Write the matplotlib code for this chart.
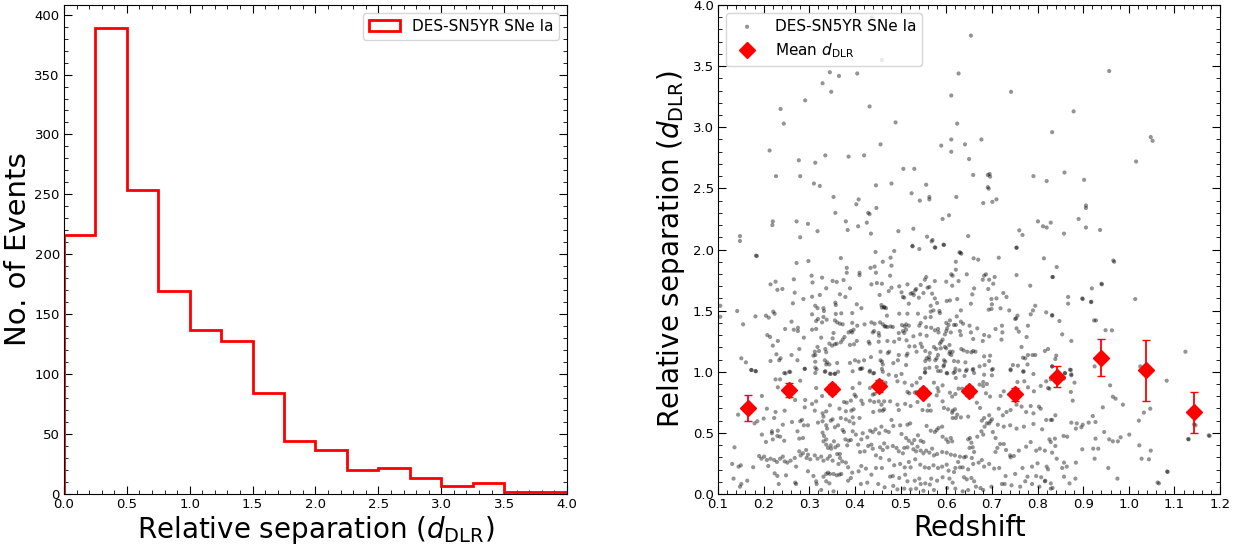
import numpy as np
import matplotlib
matplotlib.use('Agg')
import matplotlib.pyplot as plt
from matplotlib.ticker import MultipleLocator

# histogram of d_DLR (bin width 0.25)
bin_edges = [0.0, 0.25, 0.5, 0.75, 1.0, 1.25, 1.5, 1.75, 2.0, 2.25, 2.5, 2.75, 3.0, 3.25, 3.5, 3.75, 4.0]
bin_counts = [216, 389, 254, 169, 137, 128, 84, 44, 37, 20, 22, 13, 7, 9, 2, 2]

# mean d_DLR per redshift bin
mean_z = [0.165, 0.255, 0.350, 0.452, 0.550, 0.650, 0.750, 0.842, 0.940, 1.038, 1.142]
mean_d = [0.705, 0.850, 0.860, 0.885, 0.830, 0.845, 0.815, 0.960, 1.115, 1.012, 0.668]
mean_err = [0.105, 0.060, 0.040, 0.050, 0.040, 0.040, 0.055, 0.085, 0.150, 0.247, 0.167]

# individual SNe (redshift, d_DLR)
sn_upper = [
    (0.105, 1.54), (0.105, 1.45), (0.148, 2.11), (0.148, 2.07), (0.183, 1.95), (0.213, 2.81), (0.22, 2.23),
    (0.219, 2.20), (0.227, 2.60), (0.237, 3.15), (0.244, 3.03), (0.272, 2.23), (0.277, 2.73), (0.28, 2.60),
    (0.28, 2.10), (0.291, 3.22), (0.297, 2.21), (0.329, 3.36), (0.313, 2.71), (0.318, 2.15), (0.335, 2.77),
    (0.345, 3.45), (0.348, 3.29), (0.353, 2.43), (0.357, 2.30), (0.365, 3.42), (0.386, 2.76), (0.405, 3.44),
    (0.408, 2.41), (0.403, 2.37), (0.42, 2.77), (0.432, 3.17), (0.429, 2.30), (0.435, 2.13), (0.447, 2.34),
    (0.456, 2.86), (0.48, 2.54), (0.489, 3.04), (0.495, 2.15), (0.506, 2.66), (0.524, 2.46), (0.53, 2.66),
    (0.528, 2.17), (0.542, 2.40), (0.556, 2.53), (0.563, 2.43), (0.563, 2.41), (0.589, 2.85), (0.592, 2.25),
    (0.606, 2.28), (0.611, 3.26), (0.611, 2.90), (0.611, 2.80), (0.622, 2.43), (0.624, 3.03), (0.627, 3.44),
    (0.641, 2.86), (0.648, 2.11), (0.65, 2.74), (0.654, 3.75), (0.659, 2.61), (0.677, 2.90), (0.681, 2.38),
    (0.691, 2.61), (0.691, 2.51), (0.701, 2.39), (0.71, 2.41), (0.742, 3.29), (0.791, 2.60), (0.832, 2.96),
    (0.82, 2.56), (0.879, 3.13), (0.902, 2.57), (0.906, 2.34), (0.906, 2.36), (0.89, 2.25), (0.937, 2.16),
    (0.906, 2.18), (0.957, 3.46), (1.016, 2.72), (1.048, 2.92), (1.052, 2.89), (0.82, 2.18), (0.829, 2.22),
    (0.801, 2.23), (0.812, 2.19), (0.858, 2.13), (0.859, 2.63), (0.966, 1.91), (0.272, 3.60), (0.459, 3.55),
    (0.437, 3.90), (0.31, 2.54), (0.323, 2.52), (0.446, 2.525), (0.432, 2.29), (0.38, 2.23), (0.384, 2.16),
    (0.407, 2.19), (0.426, 2.22), (0.526, 2.03), (0.558, 2.105), (0.57, 2.078), (0.568, 2.067), (0.575, 2.018),
    (0.594, 2.04), (0.631, 1.974), (0.76, 2.157), (0.767, 2.119), (0.754, 2.015), (0.695, 2.618), (0.696, 2.596),
    (0.693, 2.498),
]

sn_mid_left = [
    (0.185, 1.947), (0.272, 1.89), (0.298, 1.906), (0.369, 1.93), (0.445, 1.98), (0.461, 1.9), (0.382, 1.85),
    (0.382, 1.81), (0.41, 1.81), (0.41, 1.79), (0.434, 1.85), (0.443, 1.86), (0.446, 1.81), (0.266, 1.756),
    (0.305, 1.786), (0.307, 1.73), (0.328, 1.77), (0.351, 1.743), (0.36, 1.735), (0.375, 1.75), (0.215, 1.715),
    (0.226, 1.737), (0.23, 1.67), (0.241, 1.677), (0.268, 1.647), (0.306, 1.614), (0.323, 1.628), (0.337, 1.683),
    (0.367, 1.634), (0.379, 1.612), (0.389, 1.683), (0.436, 1.715), (0.448, 1.726), (0.459, 1.72), (0.454, 1.628),
    (0.287, 1.595), (0.264, 1.56), (0.313, 1.54), (0.318, 1.52), (0.331, 1.52), (0.332, 1.497), (0.357, 1.565),
    (0.358, 1.546), (0.404, 1.552), (0.414, 1.52), (0.458, 1.546), (0.459, 1.525), (0.464, 1.525), (0.142, 1.497),
    (0.182, 1.453), (0.205, 1.459), (0.211, 1.443), (0.221, 1.492), (0.224, 1.475), (0.155, 1.388), (0.306, 1.47),
    (0.315, 1.415), (0.328, 1.404), (0.319, 1.432), (0.331, 1.448), (0.338, 1.426), (0.358, 1.473), (0.37, 1.478),
    (0.356, 1.42), (0.361, 1.404), (0.367, 1.393), (0.373, 1.388), (0.394, 1.48), (0.394, 1.40), (0.405, 1.377),
    (0.421, 1.388), (0.436, 1.404), (0.443, 1.393), (0.455, 1.404), (0.461, 1.388), (0.465, 1.371), (0.247, 1.35),
    (0.261, 1.41), (0.266, 1.344), (0.275, 1.36), (0.275, 1.333), (0.306, 1.344), (0.315, 1.35), (0.353, 1.317),
    (0.351, 1.273), (0.386, 1.322), (0.391, 1.333), (0.394, 1.322), (0.397, 1.344), (0.439, 1.322), (0.442, 1.333),
    (0.452, 1.317), (0.453, 1.295), (0.208, 1.30), (0.214, 1.285), (0.231, 1.252), (0.288, 1.279), (0.326, 1.279),
    (0.377, 1.284), (0.373, 1.263), (0.398, 1.225), (0.404, 1.252), (0.43, 1.246), (0.432, 1.23), (0.452, 1.246),
    (0.22, 1.214), (0.278, 1.186), (0.344, 1.23), (0.35, 1.214), (0.356, 1.225), (0.36, 1.23), (0.369, 1.241),
    (0.389, 1.22), (0.318, 1.203), (0.312, 1.164), (0.321, 1.17), (0.313, 1.137), (0.309, 1.132), (0.335, 1.186),
    (0.337, 1.16), (0.228, 1.143), (0.237, 1.11), (0.234, 1.094), (0.261, 1.137), (0.215, 1.088), (0.274, 1.094),
    (0.29, 1.023), (0.151, 1.11), (0.161, 1.077), (0.173, 1.014), (0.182, 1.006), (0.313, 1.082), (0.313, 1.034),
    (0.334, 1.094), (0.339, 1.077), (0.337, 1.06), (0.344, 1.06), (0.361, 1.072), (0.389, 1.072), (0.363, 1.0),
    (0.40, 1.094), (0.408, 1.083), (0.42, 1.094), (0.435, 1.12), (0.456, 1.164), (0.456, 1.094), (0.459, 1.083),
    (0.461, 1.06), (0.411, 1.023), (0.416, 1.028), (0.432, 1.0), (0.442, 0.99), (0.245, 0.99), (0.256, 1.0),
    (0.313, 0.99), (0.334, 1.0), (0.345, 0.985), (0.356, 0.985), (0.459, 1.023), (0.461, 1.0),
]

sn_mid_centre = [
    (0.486, 1.988), (0.478, 1.933), (0.48, 1.868), (0.526, 2.026), (0.541, 2.004), (0.576, 2.015), (0.595, 2.037),
    (0.629, 1.977), (0.633, 1.966), (0.621, 1.90), (0.621, 1.835), (0.66, 1.928), (0.67, 1.917), (0.715, 1.933),
    (0.754, 2.015), (0.814, 1.928), (0.477, 1.786), (0.556, 1.775), (0.553, 1.753), (0.611, 1.797), (0.614, 1.786),
    (0.645, 1.797), (0.683, 1.786), (0.687, 1.797), (0.694, 1.753), (0.706, 1.775), (0.68, 1.753), (0.754, 1.791),
    (0.833, 1.775), (0.60, 1.737), (0.627, 1.742), (0.575, 1.742), (0.544, 1.71), (0.559, 1.688), (0.563, 1.693),
    (0.497, 1.699), (0.515, 1.715), (0.48, 1.688), (0.474, 1.66), (0.613, 1.704), (0.661, 1.682), (0.692, 1.677),
    (0.703, 1.72), (0.784, 1.704), (0.502, 1.65), (0.505, 1.612), (0.508, 1.606), (0.522, 1.639), (0.526, 1.644),
    (0.532, 1.666), (0.534, 1.677), (0.529, 1.628), (0.54, 1.606), (0.55, 1.644), (0.569, 1.639), (0.575, 1.60),
    (0.58, 1.563), (0.657, 1.633), (0.699, 1.595), (0.71, 1.60), (0.725, 1.644), (0.732, 1.612), (0.601, 1.579),
    (0.608, 1.584), (0.624, 1.595), (0.654, 1.557), (0.518, 1.557), (0.70, 1.552), (0.699, 1.514), (0.719, 1.519),
    (0.738, 1.502), (0.693, 1.508), (0.795, 1.54), (0.79, 1.502), (0.785, 1.47), (0.819, 1.486), (0.832, 1.459),
    (0.464, 1.53), (0.468, 1.52), (0.47, 1.459), (0.566, 1.54), (0.566, 1.492), (0.572, 1.502), (0.585, 1.497),
    (0.586, 1.48), (0.632, 1.502), (0.623, 1.453), (0.497, 1.475), (0.515, 1.475), (0.538, 1.475), (0.554, 1.443),
    (0.566, 1.448), (0.608, 1.42), (0.60, 1.40), (0.605, 1.383), (0.617, 1.383), (0.621, 1.383), (0.632, 1.41),
    (0.637, 1.393), (0.651, 1.377), (0.668, 1.355), (0.756, 1.459), (0.753, 1.437), (0.751, 1.432), (0.722, 1.377),
    (0.779, 1.377), (0.467, 1.371), (0.471, 1.366), (0.478, 1.371), (0.483, 1.366), (0.503, 1.382), (0.509, 1.371),
    (0.512, 1.388), (0.518, 1.377), (0.541, 1.377), (0.544, 1.399), (0.556, 1.366), (0.567, 1.36), (0.575, 1.339),
    (0.582, 1.35), (0.583, 1.322), (0.60, 1.333), (0.602, 1.355), (0.61, 1.322), (0.63, 1.333), (0.632, 1.30),
    (0.654, 1.322), (0.496, 1.317), (0.505, 1.333), (0.508, 1.317), (0.512, 1.344), (0.528, 1.29), (0.543, 1.306),
    (0.557, 1.295), (0.723, 1.322), (0.708, 1.35), (0.754, 1.355), (0.759, 1.328), (0.776, 1.284), (0.659, 1.268),
    (0.68, 1.252), (0.683, 1.301), (0.694, 1.29), (0.721, 1.263), (0.597, 1.306), (0.592, 1.263), (0.589, 1.246),
    (0.586, 1.23), (0.471, 1.252), (0.486, 1.246), (0.497, 1.268), (0.513, 1.257), (0.519, 1.208), (0.531, 1.208),
    (0.544, 1.23), (0.547, 1.203), (0.535, 1.164), (0.573, 1.203), (0.578, 1.186), (0.588, 1.192), (0.597, 1.203),
    (0.60, 1.192), (0.607, 1.219), (0.554, 1.17), (0.564, 1.153), (0.582, 1.137), (0.607, 1.148), (0.608, 1.164),
    (0.611, 1.137), (0.614, 1.164), (0.633, 1.186), (0.638, 1.175), (0.646, 1.164), (0.655, 1.159), (0.659, 1.17),
    (0.664, 1.164), (0.683, 1.126), (0.696, 1.132), (0.694, 1.088), (0.684, 1.055), (0.472, 1.153), (0.475, 1.164),
    (0.496, 1.137), (0.513, 1.132), (0.515, 1.148), (0.484, 1.071), (0.494, 1.094), (0.512, 1.055), (0.554, 1.088),
    (0.557, 1.11), (0.562, 1.12), (0.563, 1.099), (0.576, 1.094), (0.579, 1.11), (0.595, 1.094), (0.598, 1.083),
    (0.617, 1.088), (0.626, 1.083), (0.642, 1.077), (0.645, 1.017), (0.563, 1.033), (0.579, 1.039), (0.594, 1.044),
    (0.595, 1.055), (0.553, 0.995), (0.582, 1.006), (0.588, 1.006), (0.601, 0.99), (0.616, 0.99), (0.619, 1.0),
    (0.629, 1.012), (0.643, 1.006), (0.659, 1.023), (0.661, 0.99), (0.673, 1.044), (0.702, 1.023), (0.741, 1.012),
    (0.746, 1.055), (0.765, 1.203), (0.773, 1.11), (0.778, 1.06), (0.769, 1.0), (0.779, 1.137), (0.789, 1.137),
    (0.795, 1.137), (0.757, 1.05), (0.768, 1.115), (0.823, 1.186), (0.816, 1.17), (0.832, 1.044),
]

sn_mid_right = [
    (0.968, 1.90), (0.842, 1.857), (0.833, 1.775), (0.941, 1.715), (0.919, 1.682), (0.867, 1.612), (0.867, 1.557),
    (0.899, 1.595), (0.918, 1.573), (1.014, 1.595), (0.832, 1.464), (0.848, 1.415), (0.924, 1.42), (0.963, 1.339),
    (0.854, 1.306), (0.874, 1.252), (0.841, 1.132), (0.839, 1.104), (1.124, 1.164), (0.925, 1.044), (1.025, 1.044),
    (0.832, 1.044), (0.871, 1.017), (0.86, 0.99), (0.874, 0.979), (0.949, 1.34), (0.928, 1.42), (0.917, 1.57),
    (0.94, 1.72), (0.898, 1.60),
]

sn_low_left = [
    (0.173, 1.015), (0.183, 1.004), (0.248, 0.987), (0.258, 0.998), (0.29, 1.025), (0.316, 1.02), (0.335, 1.004),
    (0.347, 0.982), (0.356, 0.982), (0.395, 1.004), (0.413, 1.025), (0.433, 1.009), (0.44, 0.987), (0.226, 0.938),
    (0.236, 0.938), (0.28, 0.927), (0.315, 0.867), (0.231, 0.873), (0.196, 0.802), (0.395, 0.867), (0.399, 0.813),
    (0.402, 0.797), (0.41, 0.906), (0.433, 0.867), (0.439, 0.813), (0.443, 0.818), (0.291, 0.769), (0.269, 0.769),
    (0.328, 0.802), (0.315, 0.758), (0.306, 0.737), (0.376, 0.753), (0.382, 0.747), (0.391, 0.764), (0.414, 0.764),
    (0.417, 0.737), (0.433, 0.764), (0.442, 0.753), (0.452, 0.758), (0.458, 0.731), (0.454, 0.682), (0.461, 0.682),
    (0.464, 0.693), (0.44, 0.671), (0.366, 0.698), (0.38, 0.677), (0.392, 0.682), (0.397, 0.693), (0.345, 0.726),
    (0.226, 0.671), (0.246, 0.682), (0.207, 0.698), (0.312, 0.682), (0.29, 0.709), (0.186, 0.595), (0.18, 0.578),
    (0.20, 0.617), (0.144, 0.649), (0.223, 0.622), (0.262, 0.589), (0.28, 0.595), (0.284, 0.606), (0.329, 0.66),
    (0.331, 0.633), (0.337, 0.676), (0.329, 0.595), (0.347, 0.60), (0.351, 0.611), (0.369, 0.622), (0.38, 0.611),
    (0.388, 0.595), (0.395, 0.627), (0.397, 0.578), (0.41, 0.622), (0.288, 0.562), (0.297, 0.562), (0.319, 0.584),
    (0.337, 0.562), (0.339, 0.535), (0.356, 0.546), (0.363, 0.562), (0.373, 0.524), (0.376, 0.507), (0.395, 0.513),
    (0.402, 0.486), (0.417, 0.497), (0.433, 0.518), (0.439, 0.507), (0.445, 0.529), (0.453, 0.497), (0.458, 0.551),
    (0.218, 0.513), (0.231, 0.518), (0.23, 0.475), (0.236, 0.469), (0.245, 0.436), (0.196, 0.486), (0.218, 0.497),
    (0.22, 0.447), (0.274, 0.513), (0.278, 0.453), (0.286, 0.458), (0.329, 0.502), (0.332, 0.475), (0.337, 0.447),
    (0.331, 0.431), (0.337, 0.404), (0.341, 0.377), (0.347, 0.398), (0.348, 0.371), (0.354, 0.431), (0.357, 0.382),
    (0.363, 0.398), (0.361, 0.327), (0.379, 0.447), (0.386, 0.436), (0.391, 0.442), (0.383, 0.398), (0.407, 0.404),
    (0.414, 0.447), (0.411, 0.344), (0.421, 0.349), (0.429, 0.393), (0.436, 0.404), (0.427, 0.464), (0.439, 0.371),
    (0.446, 0.316), (0.455, 0.382), (0.456, 0.295), (0.461, 0.36), (0.136, 0.382), (0.19, 0.311), (0.195, 0.289),
    (0.201, 0.306), (0.207, 0.278), (0.21, 0.229), (0.215, 0.289), (0.223, 0.278), (0.229, 0.262), (0.236, 0.289),
    (0.242, 0.306), (0.246, 0.267), (0.252, 0.257), (0.259, 0.273), (0.268, 0.295), (0.271, 0.224), (0.278, 0.349),
    (0.281, 0.316), (0.286, 0.333), (0.293, 0.36), (0.294, 0.295), (0.297, 0.322), (0.302, 0.284), (0.312, 0.316),
    (0.318, 0.289), (0.326, 0.306), (0.331, 0.273), (0.34, 0.289), (0.345, 0.311), (0.351, 0.273), (0.367, 0.327),
    (0.367, 0.295), (0.372, 0.267), (0.364, 0.246), (0.38, 0.257), (0.131, 0.246), (0.145, 0.224), (0.15, 0.235),
    (0.177, 0.219), (0.224, 0.169), (0.23, 0.148), (0.233, 0.082), (0.249, 0.153), (0.269, 0.093), (0.271, 0.082),
    (0.297, 0.186), (0.309, 0.148), (0.315, 0.104), (0.316, 0.082), (0.331, 0.142), (0.337, 0.164), (0.341, 0.175),
    (0.345, 0.164), (0.353, 0.164), (0.36, 0.153), (0.366, 0.158), (0.37, 0.164), (0.385, 0.219), (0.394, 0.175),
    (0.391, 0.131), (0.385, 0.109), (0.408, 0.186), (0.414, 0.229), (0.424, 0.208), (0.436, 0.158), (0.446, 0.213),
    (0.459, 0.213), (0.451, 0.082), (0.337, 0.104), (0.344, 0.087), (0.134, 0.126), (0.151, 0.082), (0.148, 0.06),
    (0.164, 0.109), (0.326, 0.033), (0.353, 0.022), (0.413, 0.082), (0.427, 0.093), (0.205, 0.426), (0.242, 0.567),
]

sn_low_centre = [
    (0.474, 0.976), (0.49, 0.966), (0.502, 0.982), (0.554, 1.025), (0.554, 0.993), (0.543, 0.949), (0.602, 0.987),
    (0.62, 1.025), (0.621, 0.949), (0.64, 0.966), (0.658, 1.015), (0.683, 0.976), (0.70, 1.015), (0.70, 0.971),
    (0.681, 0.916), (0.681, 0.884), (0.741, 1.02), (0.769, 1.004), (0.771, 0.922), (0.756, 0.916), (0.791, 0.982),
    (0.819, 0.922), (0.826, 0.862), (0.829, 0.938), (0.467, 0.911), (0.493, 0.922), (0.509, 0.911), (0.525, 0.889),
    (0.535, 0.911), (0.515, 0.835), (0.519, 0.824), (0.531, 0.829), (0.535, 0.835), (0.573, 0.911), (0.581, 0.867),
    (0.592, 0.889), (0.579, 0.807), (0.583, 0.84), (0.608, 0.829), (0.613, 0.797), (0.62, 0.818), (0.627, 0.862),
    (0.635, 0.862), (0.673, 0.895), (0.689, 0.90), (0.687, 0.824), (0.696, 0.797), (0.719, 0.802), (0.726, 0.84),
    (0.779, 0.873), (0.792, 0.84), (0.807, 0.884), (0.823, 0.867), (0.464, 0.758), (0.477, 0.758), (0.493, 0.731),
    (0.496, 0.687), (0.51, 0.737), (0.522, 0.72), (0.537, 0.753), (0.548, 0.687), (0.559, 0.682), (0.566, 0.682),
    (0.562, 0.726), (0.592, 0.758), (0.595, 0.704), (0.604, 0.693), (0.613, 0.665), (0.614, 0.682), (0.619, 0.693),
    (0.624, 0.649), (0.614, 0.622), (0.621, 0.622), (0.632, 0.627), (0.648, 0.633), (0.657, 0.797), (0.667, 0.747),
    (0.674, 0.704), (0.694, 0.644), (0.70, 0.611), (0.694, 0.578), (0.683, 0.622), (0.678, 0.60), (0.715, 0.698),
    (0.724, 0.644), (0.732, 0.671), (0.741, 0.687), (0.754, 0.731), (0.765, 0.715), (0.775, 0.671), (0.791, 0.66),
    (0.807, 0.698), (0.785, 0.72), (0.803, 0.715), (0.713, 0.567), (0.726, 0.551), (0.74, 0.562), (0.754, 0.535),
    (0.77, 0.551), (0.791, 0.573), (0.819, 0.606), (0.829, 0.606), (0.81, 0.529), (0.48, 0.606), (0.484, 0.557),
    (0.499, 0.562), (0.515, 0.567), (0.521, 0.578), (0.467, 0.518), (0.474, 0.507), (0.502, 0.491), (0.512, 0.458),
    (0.518, 0.436), (0.53, 0.442), (0.538, 0.48), (0.544, 0.436), (0.55, 0.425), (0.557, 0.557), (0.566, 0.518),
    (0.575, 0.507), (0.579, 0.524), (0.583, 0.54), (0.591, 0.551), (0.592, 0.469), (0.60, 0.447), (0.604, 0.425),
    (0.61, 0.458), (0.613, 0.431), (0.464, 0.414), (0.471, 0.382), (0.483, 0.393), (0.491, 0.377), (0.496, 0.349),
    (0.505, 0.333), (0.508, 0.377), (0.515, 0.382), (0.525, 0.414), (0.528, 0.366), (0.534, 0.349), (0.537, 0.387),
    (0.544, 0.355), (0.55, 0.333), (0.556, 0.355), (0.563, 0.338), (0.569, 0.371), (0.573, 0.316), (0.58, 0.327),
    (0.591, 0.344), (0.601, 0.338), (0.61, 0.322), (0.619, 0.316), (0.63, 0.306), (0.639, 0.30), (0.643, 0.306),
    (0.648, 0.447), (0.652, 0.458), (0.655, 0.42), (0.651, 0.377), (0.658, 0.382), (0.661, 0.344), (0.656, 0.295),
    (0.668, 0.469), (0.677, 0.513), (0.681, 0.486), (0.684, 0.551), (0.689, 0.578), (0.697, 0.595), (0.702, 0.507),
    (0.708, 0.458), (0.712, 0.377), (0.708, 0.344), (0.718, 0.409), (0.726, 0.409), (0.731, 0.36), (0.74, 0.316),
    (0.741, 0.30), (0.748, 0.311), (0.759, 0.355), (0.775, 0.387), (0.785, 0.425), (0.797, 0.355), (0.805, 0.371),
    (0.816, 0.355), (0.826, 0.447), (0.829, 0.425), (0.659, 0.246), (0.671, 0.257), (0.678, 0.278), (0.683, 0.224),
    (0.694, 0.246), (0.705, 0.208), (0.716, 0.213), (0.73, 0.147), (0.728, 0.082), (0.751, 0.164), (0.767, 0.213),
    (0.788, 0.224), (0.80, 0.251), (0.82, 0.224), (0.823, 0.202), (0.808, 0.137), (0.817, 0.109), (0.829, 0.087),
    (0.626, 0.262), (0.63, 0.218), (0.636, 0.218), (0.648, 0.202), (0.639, 0.137), (0.645, 0.12), (0.655, 0.131),
    (0.661, 0.104), (0.665, 0.06), (0.675, 0.049), (0.681, 0.033), (0.699, 0.06), (0.532, 0.284), (0.543, 0.24),
    (0.553, 0.218), (0.562, 0.213), (0.572, 0.235), (0.582, 0.213), (0.591, 0.224), (0.601, 0.24), (0.605, 0.191),
    (0.617, 0.18), (0.62, 0.213), (0.475, 0.278), (0.486, 0.235), (0.499, 0.246), (0.509, 0.218), (0.518, 0.262),
    (0.522, 0.218), (0.477, 0.142), (0.483, 0.147), (0.497, 0.131), (0.51, 0.158), (0.515, 0.104), (0.531, 0.109),
    (0.541, 0.126), (0.544, 0.082), (0.554, 0.087), (0.567, 0.126), (0.58, 0.109), (0.592, 0.137), (0.607, 0.126),
    (0.614, 0.093), (0.465, 0.055), (0.484, 0.066), (0.493, 0.038), (0.508, 0.044), (0.522, 0.038), (0.534, 0.044),
    (0.55, 0.027), (0.564, 0.077), (0.573, 0.033), (0.602, 0.049), (0.62, 0.044), (0.636, 0.022), (0.648, 0.033),
    (0.722, 0.082), (0.743, 0.071), (0.762, 0.06), (0.773, 0.104), (0.788, 0.082), (0.804, 0.06), (0.816, 0.104),
    (0.829, 0.044), (0.778, 0.142), (0.797, 0.147),
]

sn_low_right = [
    (0.86, 0.987), (0.873, 1.015), (0.874, 0.971), (0.858, 0.944), (0.881, 0.911), (0.873, 0.835), (0.877, 0.764),
    (0.839, 0.644), (0.832, 0.606), (0.874, 0.584), (0.886, 0.578), (0.884, 0.535), (0.899, 0.567), (0.896, 0.546),
    (0.912, 0.584), (0.921, 0.638), (0.927, 0.589), (0.857, 0.475), (0.865, 0.469), (0.838, 0.453), (0.839, 0.393),
    (0.832, 0.338), (0.842, 0.289), (0.959, 0.889), (0.965, 0.796), (0.971, 0.78), (0.943, 0.709), (0.987, 0.731),
    (0.946, 0.507), (0.957, 0.447), (0.965, 0.431), (0.976, 0.431), (0.982, 0.464), (0.927, 0.453), (0.922, 0.371),
    (0.933, 0.371), (0.925, 0.289), (0.898, 0.366), (1.001, 0.486), (1.022, 0.60), (1.033, 0.666), (1.047, 0.698),
    (1.083, 0.927), (1.023, 0.398), (1.048, 0.355), (1.028, 0.289), (1.044, 0.284), (0.858, 0.257), (0.854, 0.213),
    (0.864, 0.224), (0.884, 0.257), (0.858, 0.142), (0.883, 0.126), (0.87, 0.087), (0.833, 0.049), (0.955, 0.213),
    (0.975, 0.126), (1.066, 0.087), (1.085, 0.18), (1.131, 0.447), (1.177, 0.475), (1.146, 0.562), (1.175, 0.48),
    (1.13, 0.45), (1.084, 0.185), (1.063, 0.094), (1.143, 0.57),
]

sn_points = np.array(sn_upper + sn_mid_left + sn_mid_centre + sn_mid_right
                     + sn_low_left + sn_low_centre + sn_low_right)


def style_axes(ax):
    ax.tick_params(which='both', direction='in', top=True, right=True, labelsize=9.5, pad=3)
    ax.tick_params(which='major', length=6)
    ax.tick_params(which='minor', length=3)


fig = plt.figure(figsize=(12.44, 5.46), dpi=100)
ax1 = fig.add_axes([0.0514, 0.0952, 0.4044, 0.8956])
ax2 = fig.add_axes([0.5772, 0.0952, 0.4036, 0.8956])

# left: histogram
centres = np.array(bin_edges[:-1]) + 0.125
ax1.hist(centres, bins=bin_edges, weights=bin_counts, histtype='step',
         color='red', lw=2, label='DES-SN5YR SNe Ia')
ax1.set_xlim(0, 4)
ax1.set_ylim(0, 408)
ax1.xaxis.set_major_locator(MultipleLocator(0.5))
ax1.xaxis.set_minor_locator(MultipleLocator(0.1))
ax1.yaxis.set_major_locator(MultipleLocator(50))
ax1.yaxis.set_minor_locator(MultipleLocator(10))
ax1.set_xlabel(r'Relative separation ($d_{\rm DLR}$)', fontsize=20, labelpad=2)
ax1.set_ylabel('No. of Events', fontsize=21, labelpad=2)
ax1.legend(loc='upper right', fontsize=11)
style_axes(ax1)

# right: scatter with binned means
ax2.scatter(sn_points[:, 0], sn_points[:, 1], s=9, color='k', alpha=0.42,
            edgecolors='none', label='DES-SN5YR SNe Ia')
ax2.errorbar(mean_z, mean_d, yerr=mean_err, fmt='none', ecolor='red',
             elinewidth=1.3, capsize=3)
ax2.plot(mean_z, mean_d, 'D', color='red', ms=8, label=r'Mean $d_{\rm DLR}$')
ax2.set_xlim(0.1, 1.2)
ax2.set_ylim(0, 4.0)
ax2.xaxis.set_major_locator(MultipleLocator(0.1))
ax2.xaxis.set_minor_locator(MultipleLocator(0.02))
ax2.yaxis.set_major_locator(MultipleLocator(0.5))
ax2.yaxis.set_minor_locator(MultipleLocator(0.1))
ax2.set_xlabel('Redshift', fontsize=20, labelpad=2)
ax2.set_ylabel(r'Relative separation ($d_{\rm DLR}$)', fontsize=20)
ax2.legend(loc='upper left', fontsize=11)
style_axes(ax2)

fig.savefig('out.png', dpi=100)
